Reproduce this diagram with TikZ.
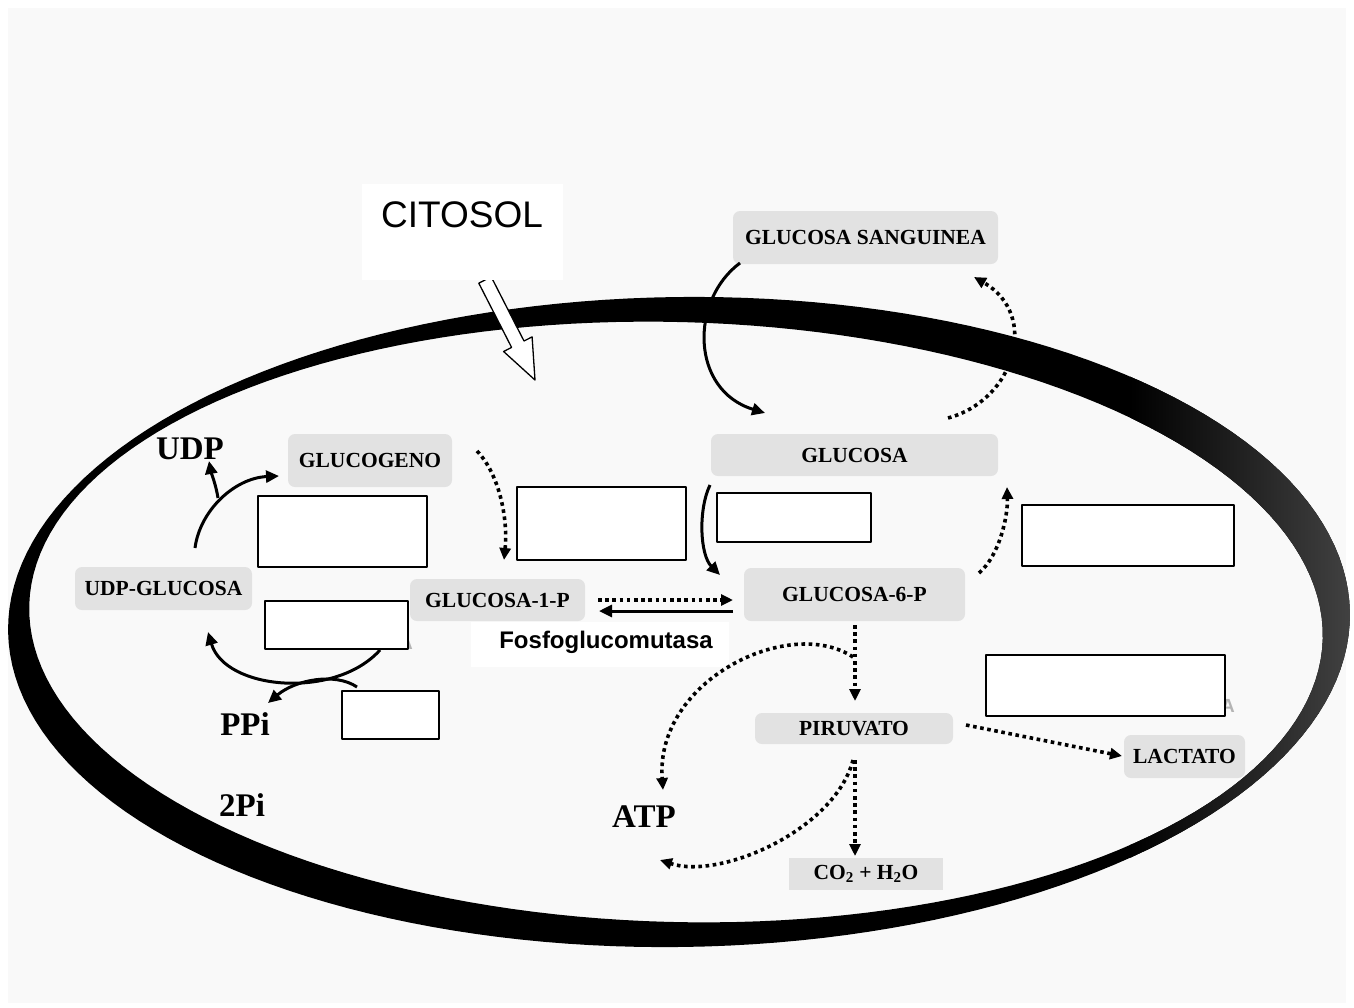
\documentclass[tikz,border=0pt]{standalone}
\usepackage{fontspec}
\setmainfont{Liberation Serif}
\newfontfamily\arialf{Liberation Sans}
\usetikzlibrary{arrows.meta}
\definecolor{bgc}{HTML}{F9F9F9}
\definecolor{boxc}{HTML}{E2E2E2}
\definecolor{peekc}{HTML}{B4B4B4}
\tikzset{
  gbox/.style={fill=boxc, rounded corners=7pt, inner sep=0pt, font=\fontsize{21.5}{24}\selectfont\bfseries},
  sqbox/.style={fill=boxc, inner sep=0pt, font=\fontsize{21.5}{24}\selectfont\bfseries},
  wbox/.style={draw=black, line width=2.4pt, fill=white, inner sep=0pt},
  biglab/.style={font=\fontsize{33}{36}\selectfont\bfseries, inner sep=0pt},
  solidarr/.style={line width=3pt, -{Triangle[length=13pt,width=12pt]}},
  dotarr/.style={line width=3.6pt, dash pattern=on 3.6pt off 3.6pt, -{Triangle[length=12pt,width=11pt]}},
}
\def\ringpath{plot[domain=0:360, samples=181, variable=\t]
   ({679+671*cos(\t)*cos(0.8)-325*sin(\t)*sin(0.8)}, {622-(671*cos(\t)*sin(0.8)+325*sin(\t)*cos(0.8))}) -- cycle
  plot[domain=0:360, samples=181, variable=\t]
   ({676+647*cos(\t)*cos(-1.5)-300*sin(\t)*sin(-1.5)}, {622-(647*cos(\t)*sin(-1.5)+300*sin(\t)*cos(-1.5))}) -- cycle}
\begin{document}
\begin{tikzpicture}[x=1pt, y=-1pt, line join=round]
\useasboundingbox (0,0) rectangle (1354,1007);
\fill[white] (0,0) rectangle (1354,1007);
\fill[bgc] (8,8) rectangle (1346,1003);

% ring (outer ellipse tilted one way, inner the other way)
\fill[black, even odd rule] \ringpath;
\begin{scope}[even odd rule]
  \clip \ringpath;
  \shade[left color=black, right color=black!74] (1130,0) rectangle (1354,1007);
\end{scope}

% partly hidden letters
\node[font=\arialf\bfseries\fontsize{19}{20}\selectfont, text=peekc, anchor=base, inner sep=0pt] (pk1) at (406,649) {A};
\node[font=\arialf\bfseries\fontsize{19}{20}\selectfont, text=peekc, anchor=base, inner sep=0pt] (pk2) at (1228,712) {A};

% white boxes
\node[wbox, minimum width=169pt, minimum height=71pt] (wa) at (342.5,531.5) {};
\node[wbox, minimum width=169pt, minimum height=73pt] (wb) at (601.5,523.5) {};
\node[wbox, minimum width=154pt, minimum height=49pt] (wc) at (794,517.5) {};
\node[wbox, minimum width=212pt, minimum height=61pt] (wd) at (1128,535.5) {};
\node[wbox, minimum width=143pt, minimum height=48pt] (we) at (336.5,625) {};
\node[wbox, minimum width=97pt, minimum height=48pt] (wf) at (390.5,715) {};
\node[wbox, minimum width=239pt, minimum height=61pt] (wg) at (1105.5,685.5) {};

% gray boxes
\node[gbox, minimum width=265pt, minimum height=53pt] (gs) at (865.5,237.5) {GLUCOSA SANGUINEA};
\node[gbox, minimum width=287pt, minimum height=42pt] (glu) at (854.5,455) {GLUCOSA};
\node[gbox, minimum width=164pt, minimum height=53pt] (gen) at (370,460.5) {GLUCOGENO};
\node[gbox, minimum width=177pt, minimum height=43pt] (udpg) at (163.5,588.5) {UDP-GLUCOSA};
\node[gbox, minimum width=175pt, minimum height=42pt] (g1p) at (497.5,600) {GLUCOSA-1-P};
\node[gbox, minimum width=221pt, minimum height=53pt] (g6p) at (854.5,594.5) {GLUCOSA-6-P};
\node[gbox, minimum width=198pt, minimum height=31pt] (pir) at (854,728.5) {PIRUVATO};
\node[gbox, minimum width=121pt, minimum height=43pt] (lac) at (1184.5,756.5) {LACTATO};
\node[sqbox, minimum width=154pt, minimum height=32pt] (co2) at (866,874) {CO\textsubscript{2} + H\textsubscript{2}O};

% white label box
\node[fill=white, minimum width=258pt, minimum height=45pt, inner sep=0pt] (fosbox) at (600,644.5) {};
\node[font=\arialf\bfseries\fontsize{24}{26}\selectfont, inner sep=0pt] (fos) at (606,642) {Fosfoglucomutasa};

% big labels
\node[biglab] (udp) at (190,449) {UDP};
\node[biglab] (ppi) at (245,724) {PPi};
\node[biglab] (pi2) at (242,805) {2Pi};
\node[biglab] (atp) at (644,817) {ATP};

% connector end points
\coordinate (gs1) at (740,263); \coordinate (gl1) at (765,413);
\coordinate (gl2) at (948,418); \coordinate (gs2) at (974,277);
\coordinate (gl3) at (710,485); \coordinate (g6a) at (720,575);
\coordinate (g6b) at (979,573); \coordinate (gl4) at (1007,487);
\coordinate (gg1) at (477,451); \coordinate (g1a) at (504,560);
\coordinate (g1b) at (598,600); \coordinate (g6c) at (733,600);
\coordinate (g6d) at (733,611); \coordinate (g1c) at (599,611);
\coordinate (g6e) at (855,625); \coordinate (pa) at (855,701);
\coordinate (br1) at (853,657); \coordinate (atp1) at (663,790);
\coordinate (pb) at (855,760); \coordinate (cob) at (855,856);
\coordinate (pc) at (853,760); \coordinate (atp2) at (660,860);
\coordinate (pd) at (966,725); \coordinate (lacb) at (1122,756);
\coordinate (ug1) at (195,548); \coordinate (gg2) at (279,476);
\coordinate (br2) at (218,498); \coordinate (udp1) at (209,461);
\coordinate (ebr) at (380,650); \coordinate (ug2) at (208,632);
\coordinate (ftl) at (357,687); \coordinate (ppi1) at (268,703);

% arrows
\draw[solidarr] (gs1) .. controls +(-50,37) and +(-75,-23) .. (gl1);
\draw[dotarr] (gl2) .. controls +(67,-18) and +(66,38) .. (gs2);
\draw[solidarr] (gl3) .. controls +(-12,25) and +(-20,-20) .. (g6a);
\draw[dotarr] (g6b) .. controls +(21,-18) and +(1,28) .. (gl4);
\draw[dotarr] (gg1) .. controls +(23,24) and +(4,-40) .. (g1a);
\draw[dotarr] (g1b) -- (g6c);
\draw[solidarr] (g6d) -- (g1c);
\draw[dotarr] (g6e) -- (pa);
\draw[dotarr] (br1) .. controls +(-63,-42) and +(-8,-110) .. (atp1);
\draw[dotarr] (pb) -- (cob);
\draw[dotarr] (pc) .. controls +(-18,70) and +(60,20) .. (atp2);
\draw[dotarr] (pd) -- (lacb);
\draw[solidarr] (ug1) .. controls +(5,-38) and +(-44,2) .. (gg2);
\draw[solidarr] (br2) .. controls +(-2,-13) and +(2,11) .. (udp1);
\draw[solidarr] (ebr) .. controls +(-45,50) and +(17,58) .. (ug2);
\draw[solidarr] (ftl) .. controls +(-22,-15) and +(27,-23) .. (ppi1);

% hollow CITOSOL arrow
\draw[line width=1.3pt, fill=white] (491.2,276.8) -- (524.0,341.0) -- (532.1,336.9) -- (535,380)
  -- (503.6,351.5) -- (511.6,347.4) -- (478.8,283.2) -- cycle;
\node[fill=white, minimum width=201pt, minimum height=96pt, inner sep=0pt] (citbox) at (462.5,232) {};
\node[font=\arialf\fontsize{37}{40}\selectfont, inner sep=0pt] (cit) at (462,215) {CITOSOL};
\end{tikzpicture}
\end{document}
